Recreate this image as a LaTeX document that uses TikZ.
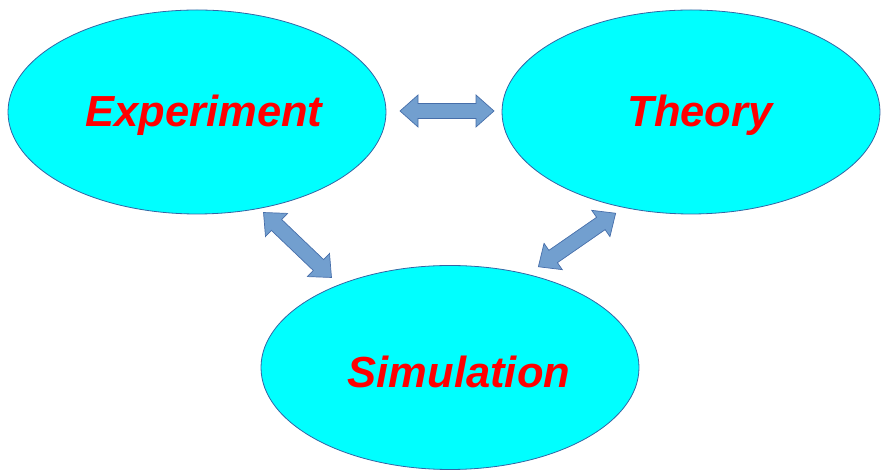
\documentclass[tikz,border=0pt]{standalone}
\usepackage{fontspec}
\setmainfont{Liberation Sans}
\usetikzlibrary{shapes.geometric}
\definecolor{cyanfill}{RGB}{0,255,255}
\definecolor{edgeblue}{RGB}{52,101,164}
\definecolor{arrowfill}{RGB}{114,159,207}
\definecolor{arrowedge}{RGB}{70,110,170}
\definecolor{textred}{RGB}{255,0,0}
\tikzset{
  topic/.style={ellipse, draw=edgeblue, fill=cyanfill, line width=0.8pt,
    minimum width=378pt, minimum height=204pt, inner sep=0pt},
  topictext/.style={inner sep=0pt, text=textred,
    font=\fontsize{43.5}{50}\selectfont\bfseries\itshape},
  blockarrow/.style={fill=arrowfill, draw=arrowedge, line width=0.7pt, line join=miter},
  dblarrow/.pic={
    \path[blockarrow] (-47,0) -- (-29,16) -- (-29,7.5) -- (29,7.5) -- (29,16) -- (47,0)
      -- (29,-16) -- (29,-7.5) -- (-29,-7.5) -- (-29,-16) -- cycle;
  }
}
\begin{document}
\begin{tikzpicture}[x=1pt,y=1pt]
\useasboundingbox (0,0) rectangle (881,473);
\node[topic] (exp) at (197,361) {};
\node[topic] (the) at (691,361) {};
\node[topic] (sim) at (450,105.5) {};
\node[topictext] (expt) at ([shift={(7,-3)}]exp.center) {Experiment};
\node[topictext] (thet) at ([shift={(9,-3)}]the.center) {Theory};
\node[topictext] (simt) at ([shift={(9,-4)}]sim.center) {Simulation};
\pic (a1) at (447,362) {dblarrow};
\pic[rotate=-43.7] (a2) at (297.5,228) {dblarrow};
\pic[rotate=34.7] (a3) at (577,233) {dblarrow};
\end{tikzpicture}
\end{document}
